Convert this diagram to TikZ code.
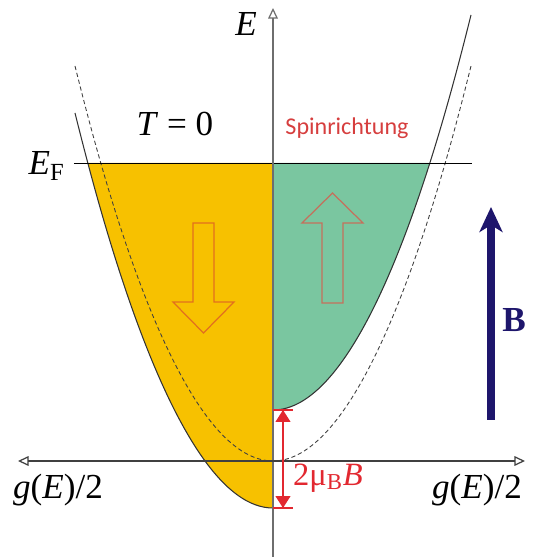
\documentclass[tikz,border=0pt]{standalone}
\usepackage{fontspec}
\setmainfont{Liberation Serif}
\newfontfamily\spinfont{Carlito}
\usetikzlibrary{arrows.meta}
\definecolor{downfill}{RGB}{247,193,0}
\definecolor{upfill}{RGB}{122,198,160}
\definecolor{downline}{RGB}{226,112,30}
\definecolor{upline}{RGB}{196,112,92}
\definecolor{spinred}{RGB}{214,62,62}
\definecolor{splitred}{RGB}{226,40,48}
\definecolor{fieldblue}{RGB}{30,22,108}
\definecolor{axisgray}{RGB}{110,110,110}

\begin{document}
\begin{tikzpicture}[x=0.02cm,y=0.02cm,
  every node/.style={font=\fontsize{20}{24}\selectfont},
  band/.style={black!80,line width=0.6pt},
  freeband/.style={black!75,line width=0.5pt,dash pattern=on 2.4pt off 1.6pt},
  spinarrow/.style={line width=0.7pt,line join=miter},
  opentip/.tip={Triangle[open,length=6pt,width=5.5pt]},
  splittip/.tip={Triangle[length=0.24cm,width=0.3cm]}]
  \useasboundingbox (-273,-96) rectangle (259,461);
  % occupied states
  \fill[downfill] (0,298) -- (-185.05,298) parabola[bend at end] (0,-47) -- cycle;
  \fill[upfill] (0,51) parabola[bend at start] (156.6,298) -- (0,298) -- cycle;
  \draw[freeband] (-198,395) parabola[bend at end] (0,0) parabola[bend at start] (198,395);
  \draw[band] (-198,348) parabola[bend at end] (0,-47);
  \draw[band] (0,51) parabola[bend at start] (198,446);
  % axes
  \coordinate (fermi west) at (-199,298);
  \coordinate (fermi east) at (199,298);
  \draw[black,line width=0.55pt] (fermi west) -- (fermi east);
  \coordinate (axis bottom) at (0,-96);
  \coordinate (axis top) at (0,453);
  \draw[axisgray,line width=0.7pt,-opentip] (axis bottom) -- (axis top);
  \coordinate (axis left) at (-255,0);
  \coordinate (axis right) at (252,0);
  \draw[black!75,line width=0.7pt,opentip-opentip] (axis left) -- (axis right);
  % spin arrows
  \draw[spinarrow,downline] (-80,238) -- (-59,238) -- (-59,159) -- (-39,159)
    -- (-69.5,128) -- (-100,159) -- (-80,159) -- cycle;
  \draw[spinarrow,upline] (49,158) -- (70,158) -- (70,238) -- (90,238)
    -- (59.5,268) -- (29,238) -- (49,238) -- cycle;
  % field
  \coordinate (field tail) at (218,41);
  \coordinate (field head) at (218,254);
  \draw[fieldblue,line width=5pt,-{Stealth[length=0.5cm,width=0.46cm,inset=0.14cm]}]
    (field tail) -- (field head);
  \node[fieldblue,font=\fontsize{20}{24}\selectfont\bfseries] (field) at (241,141) {B};
  % splitting
  \coordinate (split top) at (10,51);
  \coordinate (split bottom) at (10,-47);
  \draw[splitred,line width=0.7pt] (0,51) -- (20,51) (0,-47) -- (20,-47);
  \draw[splitred,line width=0.7pt,splittip-splittip] (split top) -- (split bottom);
  \node[splitred,anchor=west,font=\fontsize{18.5}{22}\selectfont] (split) at (14,-17)
    {2μ\textsubscript{B}\textit{B}};
  % labels
  \node (energy) at (-27,437) {\textit{E}};
  \node[anchor=base east,inner sep=0pt] (fermi) at (-208,286) {\textit{E}\textsubscript{F}};
  \node (temp) at (-98,337) {\textit{T} = 0};
  \node[spinred,font=\spinfont\fontsize{13.7}{16}\selectfont] (spin) at (74,333) {Spinrichtung};
  \node (dos left) at (-215,-29) {\textit{g}(\textit{E})/2};
  \node (dos right) at (204,-29) {\textit{g}(\textit{E})/2};
\end{tikzpicture}
\end{document}
